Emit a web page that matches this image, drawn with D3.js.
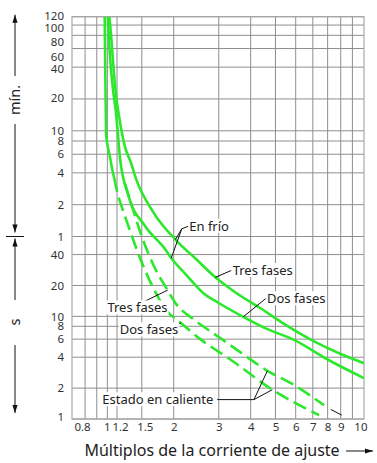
<!DOCTYPE html>
<html>
<head>
<meta charset="utf-8">
<script src="https://cdn.jsdelivr.net/npm/d3@7"></script>
<style>
  body { margin: 0; background: #fff; }
  svg { display: block; font-family: "Noto Sans", "Open Sans", sans-serif; }
</style>
</head>
<body>
<svg id="chart" width="377" height="463"></svg>
<script>
// ticks del eje x (multiplos) y del eje y (segundos / minutos)
var xTicks = [0.8, 1, 1.2, 1.5, 2, 3, 4, 5, 6, 7, 8, 9, 10];
var xGrid = [0.9, 1, 1.1, 1.2, 1.5, 2, 3, 4, 5, 6, 7, 8, 9, 10];
var secTicks = [1, 2, 4, 6, 8, 10, 20, 40];
var minTicks = [1, 2, 4, 6, 8, 10, 20, 40, 60, 80, 100, 120];

// curvas [multiplo, segundos]
var tresFrio = [[1.12,7200],[1.14,4500],[1.162,2400],[1.19,1300],[1.23,750],[1.29,420],[1.36,300],[1.42,215],
  [1.667,101],[2.03,56],[2.45,36],[2.91,24],[3.5,17],[4.37,12],[5.5,8.2],[7.08,5.7],[9,4.3],[11.1,3.5]];
var dosFrio = [[1.105,7200],[1.115,4500],[1.135,2400],[1.16,1400],[1.187,920],[1.205,620],[1.233,330],[1.33,146],
  [1.547,75],[1.853,45],[1.956,37],[2.25,25],[2.6,17],[3.0,13.5],[3.74,9.9],[4.6,7.6],[5.91,5.9],[8,3.8],[11.1,2.5]];
var inicioCaliente = [[1.074,7200],[1.078,3000],[1.083,1200],[1.088,551],[1.11,400],[1.13,325],[1.148,262],[1.17,214]];
var tresCaliente = [[1.29,190],[1.372,117],[1.5,60],[1.694,29],[1.893,18],[2.03,13.5],[2.4,9.3],[3.0,6.3],[3.5,4.8],
  [4.65,2.95],[5.9,2.15],[7.75,1.36]];
var dosCaliente = [[1.17,214],[1.2,160],[1.26,110],[1.33,75],[1.5,33.5],[1.694,17.3],[1.853,11.8],[2.135,8.6],[2.54,6.0],
  [3.33,3.8],[4.86,1.93],[7.41,1.09]];

// textos y lineas de referencia (en unidades de datos)
var etiquetas = [
  {text: 'En frío', x: 2.3, y: 75, anchor: 'start'},
  {text: 'Tres fases', x: 3.4, y: 28, anchor: 'start'},
  {text: 'Dos fases', x: 4.63, y: 14.9, anchor: 'start'},
  {text: 'Tres fases', x: 1.443, y: 12.1, anchor: 'middle'},
  {text: 'Dos fases', x: 1.6, y: 7.4, anchor: 'middle'},
  {text: 'Estado en caliente', x: 1.733, y: 1.545, anchor: 'middle'}
];
var guias = [
  [[2.28,75],[2.15,71],[2.03,56]],
  [[2.15,71],[1.956,37]],
  [[3.36,28],[2.91,24]],
  [[4.58,14.9],[3.74,9.9]],
  [[1.519,13.8],[1.893,18]],
  [[2.03,8.3],[2.135,8.6]],
  [[2.96,1.545],[4.12,1.545],[4.65,2.95]],
  [[4.12,1.545],[4.86,1.93]],
  [[8.23,1.24],[9.09,1.09]]
];

var svg = d3.select('#chart');

var x = d3.scaleLog().domain([0.8, 11.1]).range([72, 364]);
// escala log en segundos, tramo de minutos un poco mas abierto
var y = d3.scaleLog().domain([1, 60, 7200]).range([419, 236.5, 16.7]);

var verde = '#2ce82c';

// rejilla
svg.append('g').selectAll('line.v')
  .data(xGrid)
  .join('line')
  .attr('x1', d => x(d)).attr('x2', d => x(d))
  .attr('y1', y(7200)).attr('y2', y(1))
  .attr('stroke', '#8e8e8e').attr('stroke-width', 1);

var yGrid = secTicks.concat(minTicks.map(d => d * 60));
svg.append('g').selectAll('line.h')
  .data(yGrid)
  .join('line')
  .attr('x1', x(0.8)).attr('x2', x(11.1))
  .attr('y1', d => y(d)).attr('y2', d => y(d))
  .attr('stroke', '#8e8e8e').attr('stroke-width', 1);

svg.append('rect')
  .attr('x', x(0.8)).attr('y', y(7200))
  .attr('width', x(11.1) - x(0.8)).attr('height', y(1) - y(7200))
  .attr('fill', 'none').attr('stroke', '#a8a8a8').attr('stroke-width', 1.2);

// ejes
var ejeY = svg.append('g')
  .attr('transform', 'translate(' + x(0.8) + ',0)')
  .call(d3.axisLeft(y).tickValues(yGrid).tickSize(0).tickPadding(8)
    .tickFormat(d => d < 60 ? d : d / 60));
ejeY.select('.domain').remove();
ejeY.selectAll('text').attr('font-size', 11.5).attr('fill', '#333')
  .attr('font-family', '"Noto Sans", sans-serif')
  .attr('dy', d => {
    // como en el original, algunas etiquetas de arriba van corridas hacia abajo
    if (d == 6000) return '0.52em';
    if (d == 4800) return '0.85em';
    if (d == 3600) return '1.05em';
    if (d == 2400) return '0.45em';
    if (d == 7200) return '0.25em';
    if (d == 1200) return '0.2em';
    if (d == 1) return '0.1em';
    return '0.32em';
  });

var ejeX = svg.append('g')
  .attr('transform', 'translate(0,' + y(1) + ')')
  .call(d3.axisBottom(x).tickValues(xTicks).tickSize(0).tickPadding(4)
    .tickFormat(d => d));
ejeX.select('.domain').remove();
ejeX.selectAll('text').attr('font-size', 11.5).attr('fill', '#333')
  .attr('font-family', '"Noto Sans", sans-serif')
  .attr('dx', d => d == 0.8 ? 10 : d == 1 ? 10 : d == 1.2 ? 3 : d == 1.5 ? 3 : d == 10 ? 8 : 0);

// curvas
svg.append('clipPath').attr('id', 'clip')
  .append('rect')
  .attr('x', x(0.8)).attr('y', y(7200))
  .attr('width', x(11.1) - x(0.8)).attr('height', y(1) - y(7200));

var linea = d3.line()
  .x(d => x(d[0]))
  .y(d => y(d[1]))
  .curve(d3.curveMonotoneX);

var curvas = svg.append('g').attr('clip-path', 'url(#clip)');

[tresFrio, dosFrio, inicioCaliente].forEach(function(c) {
  curvas.append('path')
    .datum(c)
    .attr('fill', 'none')
    .attr('stroke', verde)
    .attr('stroke-width', 2.6)
    .attr('d', linea);
});

[tresCaliente, dosCaliente].forEach(function(c) {
  curvas.append('path')
    .datum(c)
    .attr('fill', 'none')
    .attr('stroke', verde)
    .attr('stroke-width', 2.6)
    .attr('stroke-dasharray', '14,6')
    .attr('d', linea);
});

// lineas guia
var guia = d3.line().x(d => x(d[0])).y(d => y(d[1]));
svg.append('g').selectAll('path')
  .data(guias)
  .join('path')
  .attr('d', guia)
  .attr('fill', 'none')
  .attr('stroke', '#111')
  .attr('stroke-width', 1);

// textos
svg.append('g').selectAll('text')
  .data(etiquetas)
  .join('text')
  .attr('x', d => x(d.x))
  .attr('y', d => y(d.y))
  .attr('dy', '0.35em')
  .attr('text-anchor', d => d.anchor)
  .attr('font-size', 13)
  .attr('fill', '#222')
  .text(d => d.text)
  .each(function() {
    // fondo blanco detras del texto
    var b = this.getBBox();
    d3.select(this.parentNode).insert('rect', () => this)
      .attr('x', b.x - 1).attr('y', b.y + 2)
      .attr('width', b.width + 2).attr('height', b.height - 4)
      .attr('fill', '#fff');
  });

// titulo eje x con flecha
svg.append('text')
  .attr('x', 212)
  .attr('y', 456)
  .attr('text-anchor', 'middle')
  .attr('font-size', 16)
  .attr('fill', '#222')
  .text('Múltiplos de la corriente de ajuste');

function flecha(g, x1, y1, x2, y2) {
  g.append('line')
    .attr('x1', x1).attr('y1', y1).attr('x2', x2).attr('y2', y2)
    .attr('stroke', '#111').attr('stroke-width', 1);
  var ang = Math.atan2(y2 - y1, x2 - x1);
  var l = 8, w = 2.6;
  var p = [
    [x2, y2],
    [x2 - l * Math.cos(ang) + w * Math.sin(ang), y2 - l * Math.sin(ang) - w * Math.cos(ang)],
    [x2 - l * Math.cos(ang) - w * Math.sin(ang), y2 - l * Math.sin(ang) + w * Math.cos(ang)]
  ];
  g.append('path').attr('d', 'M' + p.join('L') + 'Z').attr('fill', '#111');
}

var anot = svg.append('g');
flecha(anot, 346, 451, 373, 451);

// eje de unidades a la izquierda
var xa = 15;
flecha(anot, xa, 76, xa, y(7200) - 2);
flecha(anot, xa, 124, xa, y(60) - 4);
anot.append('line')
  .attr('x1', xa - 9).attr('x2', xa + 9)
  .attr('y1', y(60)).attr('y2', y(60))
  .attr('stroke', '#111');
flecha(anot, xa, 300, xa, y(60) + 2);
flecha(anot, xa, 345, xa, y(1) - 6);

anot.append('text')
  .attr('transform', 'translate(' + (xa + 5) + ',100) rotate(-90)')
  .attr('text-anchor', 'middle')
  .attr('font-size', 14.5)
  .attr('fill', '#222')
  .text('mín.');
anot.append('text')
  .attr('transform', 'translate(' + (xa + 5) + ',322) rotate(-90)')
  .attr('text-anchor', 'middle')
  .attr('font-size', 14.5)
  .attr('fill', '#222')
  .text('s');
</script>
</body>
</html>
